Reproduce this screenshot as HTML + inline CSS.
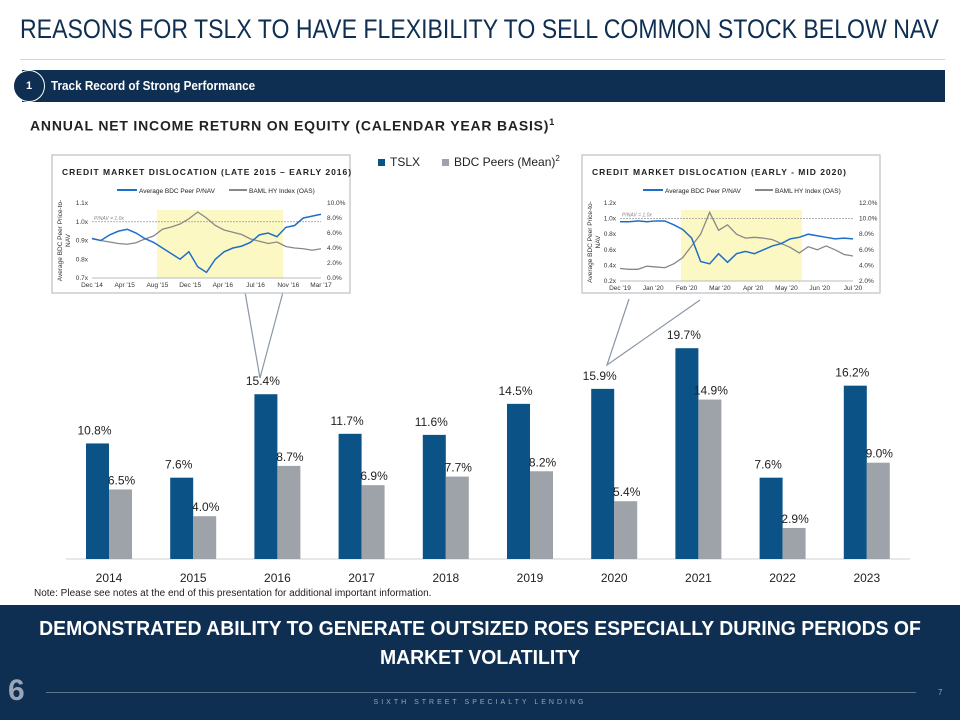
<!DOCTYPE html>
<html><head><meta charset="utf-8">
<style>
body{margin:0;width:960px;height:720px;overflow:hidden;background:#fff;font-family:"Liberation Sans",sans-serif;position:relative}
.abs{position:absolute}
</style></head>
<body>
<div class="abs" style="left:20px;top:14px;font-size:27px;color:#0e2e52;white-space:nowrap;transform:scaleX(0.855);transform-origin:left top">REASONS FOR TSLX TO HAVE FLEXIBILITY TO SELL COMMON STOCK BELOW NAV</div>
<div class="abs" style="left:20px;top:59px;width:925px;height:1px;background:#d0d4da"></div>
<div class="abs" style="left:22px;top:70px;width:923px;height:32px;background:#0e2e52"></div>
<div class="abs" style="left:13px;top:70px;width:30px;height:30px;border-radius:50%;background:#0e2e52;border:1px solid #fff;color:#fff;font-size:11px;font-weight:bold;text-align:center;line-height:30px">1</div>
<div class="abs" style="left:51px;top:78px;color:#fff;font-size:13px;font-weight:bold;white-space:nowrap;transform:scaleX(0.9);transform-origin:left top">Track Record of Strong Performance</div>
<div class="abs" style="left:30px;top:117px;font-size:14px;font-weight:bold;letter-spacing:0.8px;color:#222;white-space:nowrap">ANNUAL NET INCOME RETURN ON EQUITY (CALENDAR YEAR BASIS)<sup style="font-size:9px">1</sup></div>

<svg class="abs" style="left:0;top:0" width="960" height="720">
<g id="bars"></g>
<g id="insets"></g>
</svg>

<div class="abs" style="left:34px;top:588px;font-size:10px;color:#222">Note: Please see notes at the end of this presentation for additional important information.</div>
<div class="abs" style="left:0;top:605px;width:960px;height:115px;background:#0e2e52"></div>
<div class="abs" style="left:0;top:615px;width:960px;text-align:center;color:#fff;font-size:20px;font-weight:bold;line-height:29px;transform:scaleX(0.97)">DEMONSTRATED ABILITY TO GENERATE OUTSIZED ROES ESPECIALLY DURING PERIODS OF<br>MARKET VOLATILITY</div>
<div class="abs" style="left:8px;top:674px;color:#9aa6b6;font-size:30px;font-weight:bold">6</div>
<div class="abs" style="left:46px;top:692px;width:870px;height:1px;background:#5e7590"></div>
<div class="abs" style="left:0;top:699px;width:960px;text-align:center;color:#9aa6b6;font-size:7px;letter-spacing:3px">SIXTH STREET SPECIALTY LENDING</div>
<div class="abs" style="left:938px;top:688px;color:#9aa6b6;font-size:8px">7</div>

<script>
const years=["2014","2015","2016","2017","2018","2019","2020","2021","2022","2023"];
const tslx=[10.8,7.6,15.4,11.7,11.6,14.5,15.9,19.7,7.6,16.2];
const peers=[6.5,4.0,8.7,6.9,7.7,8.2,5.4,14.9,2.9,9.0];
// inset 1 data (P/NAV x, OAS %)
const pnav1=[0.91,0.90,0.93,0.95,0.96,0.94,0.91,0.89,0.86,0.83,0.80,0.84,0.76,0.73,0.80,0.84,0.86,0.87,0.89,0.93,0.94,0.92,0.97,0.98,1.02,1.03,1.04];
const oas1=[5.3,5.0,4.8,4.6,4.5,4.7,5.2,5.6,6.5,6.8,7.2,7.9,8.8,8.0,7.0,6.4,6.1,5.8,5.2,4.9,4.6,4.8,4.2,4.0,3.9,3.7,3.9];
// inset 2 data
const pnav2=[0.96,0.96,0.97,0.96,0.97,0.97,0.92,0.86,0.75,0.45,0.42,0.55,0.44,0.55,0.58,0.55,0.60,0.65,0.68,0.74,0.76,0.80,0.78,0.76,0.74,0.75,0.74];
const oas2=[3.6,3.5,3.5,3.9,3.8,3.7,4.2,5.0,6.5,8.0,10.8,8.5,9.2,8.0,7.5,7.6,7.5,7.3,6.8,6.3,5.6,6.4,6.0,6.5,6.0,5.4,5.2];

const NS="http://www.w3.org/2000/svg";
function mk(tag,attrs,parent,text){const e=document.createElementNS(NS,tag);for(const k in attrs)e.setAttribute(k,attrs[k]);if(text!==undefined)e.textContent=text;parent.appendChild(e);return e;}

const base=559, ppu=10.7, x0=109, step=84.2, bw=23;
const xc=i=>x0+i*step;
const yv=v=>base-v*ppu;
const g=document.getElementById('bars');
let ax=mk('line',{x1:66,x2:910,y1:base,y2:base,stroke:'#d0d0d0'},g);


years.forEach((y,i)=>{
  let r=mk('rect',{x:xc(i)-bw,y:yv(tslx[i]),width:bw,height:tslx[i]*ppu,fill:'#0b5286'},g);
  
  
  let p=mk('rect',{x:xc(i),y:yv(peers[i]),width:bw,height:peers[i]*ppu,fill:'#9ea3a9'},g);
  
  
  let t=mk('text',{x:xc(i)-bw/2-3,y:yv(tslx[i])-9,'text-anchor':'middle','font-size':12,fill:'#222'},g,tslx[i].toFixed(1)+'%');
  
  
  let u=mk('text',{x:xc(i)+bw/2+1,y:yv(peers[i])-5,'text-anchor':'middle','font-size':12,fill:'#222'},g,peers[i].toFixed(1)+'%');
  
  
  let yl=mk('text',{x:xc(i),y:582,'text-anchor':'middle','font-size':12,fill:'#222'},g,y);
  
  
});
let l1=mk('rect',{x:378,y:159,width:7,height:7,fill:'#0b5286'},g);


mk('text',{x:390,y:166,'font-size':12,fill:'#222'},g,'TSLX');
let l2=mk('rect',{x:442,y:159,width:7,height:7,fill:'#9ea3a9'},g);


let lt=mk('text',{x:454,y:166,'font-size':12,fill:'#222'},g,'BDC Peers (Mean)');
mk('tspan',{dy:-5,'font-size':8},lt,'2');

const gi=document.getElementById('insets');
let c1=mk('polyline',{points:'245,292 260,378 283,292',fill:'none',stroke:'#8a96a6','stroke-width':1.2},gi);


let c2=mk('polyline',{points:'629,299 607,365 700,300',fill:'none',stroke:'#8a96a6','stroke-width':1.2},gi);



function inset(o){
  const G=mk('g',{},gi);
  
  
  mk('rect',{x:o.bx,y:155,width:298,height:138,fill:'#fff',stroke:'#c8ccd2','stroke-width':1.5},G);
  mk('text',{x:o.bx+10,y:175,'font-size':8.5,'font-weight':'bold','letter-spacing':1,fill:'#222'},G,o.title);
  mk('line',{x1:o.lx,x2:o.lx+20,y1:190,y2:190,stroke:'#1f6fc8','stroke-width':2},G);
  mk('text',{x:o.lx+22,y:193,'font-size':6.5,fill:'#222'},G,'Average BDC Peer P/NAV');
  mk('line',{x1:o.lx+112,x2:o.lx+130,y1:190,y2:190,stroke:'#888','stroke-width':2},G);
  mk('text',{x:o.lx+132,y:193,'font-size':6.5,fill:'#222'},G,'BAML HY Index (OAS)');
  const L=o.pl,R=o.pr,T=203,B=o.pb;
  const xs=i=>L+(R-L)*i/(o.p.length-1);
  const ys=v=>B-(v-o.ymin)/(o.ymax-o.ymin)*(B-T);
  const ys2=v=>B-(v-o.y2min)/(o.y2max-o.y2min)*(B-T);
  mk('rect',{x:o.hx1,y:210,width:o.hx2-o.hx1,height:B-210,fill:'#fbf8c3'},G);
  mk('line',{x1:L,x2:R,y1:ys(1),y2:ys(1),stroke:'#999','stroke-dasharray':'2,1','stroke-width':0.7},G);
  mk('text',{x:L+2,y:ys(1)-2,'font-size':5,'font-style':'italic',fill:'#888'},G,'P/NAV = 1.0x');
  o.lt.forEach((t,i)=>{const v=o.ymin+i*o.ystep;mk('text',{x:L-4,y:ys(v)+2,'text-anchor':'end','font-size':6.5,fill:'#333'},G,t);});
  o.rt.forEach((t,i)=>{const v=o.y2min+i*o.y2step;mk('text',{x:R+6,y:ys2(v)+2,'font-size':6.5,fill:'#333'},G,t);});
  o.xt.forEach((t,i)=>{mk('text',{x:L+(R-L)*i/(o.xt.length-1),y:B+9,'text-anchor':'middle','font-size':6.5,fill:'#333'},G,t);});
  mk('line',{x1:L,x2:R,y1:B,y2:B,stroke:'#bbb'},G);
  const ty=(T+B)/2;
  mk('text',{transform:`translate(${o.bx+10},${ty}) rotate(-90)`,'text-anchor':'middle','font-size':6.5,fill:'#333'},G,'Average BDC Peer Price-to-');
  mk('text',{transform:`translate(${o.bx+18},${ty}) rotate(-90)`,'text-anchor':'middle','font-size':6.5,fill:'#333'},G,'NAV');
  mk('polyline',{points:o.o.map((v,i)=>xs(i)+','+ys2(v)).join(' '),fill:'none',stroke:'#888','stroke-width':1.3},G);
  mk('polyline',{points:o.p.map((v,i)=>xs(i)+','+ys(v)).join(' '),fill:'none',stroke:'#1f6fc8','stroke-width':1.5},G);
}
inset({name:'inset-2016',bx:52,title:'CREDIT MARKET DISLOCATION (LATE 2015 – EARLY 2016)',lx:117,pl:92,pr:321,pb:278,hx1:157,hx2:283,
  ymin:0.7,ymax:1.1,ystep:0.1,y2min:0,y2max:10,y2step:2,
  lt:['0.7x','0.8x','0.9x','1.0x','1.1x'],rt:['0.0%','2.0%','4.0%','6.0%','8.0%','10.0%'],
  xt:["Dec '14","Apr '15","Aug '15","Dec '15","Apr '16","Jul '16","Nov '16","Mar '17"],p:pnav1,o:oas1});
inset({name:'inset-2020',bx:582,title:'CREDIT MARKET DISLOCATION (EARLY - MID 2020)',lx:643,pl:620,pr:853,pb:281,hx1:681,hx2:802,
  ymin:0.2,ymax:1.2,ystep:0.2,y2min:2,y2max:12,y2step:2,
  lt:['0.2x','0.4x','0.6x','0.8x','1.0x','1.2x'],rt:['2.0%','4.0%','6.0%','8.0%','10.0%','12.0%'],
  xt:["Dec '19","Jan '20","Feb '20","Mar '20","Apr '20","May '20","Jun '20","Jul '20"],p:pnav2,o:oas2});
</script>
</body></html>
